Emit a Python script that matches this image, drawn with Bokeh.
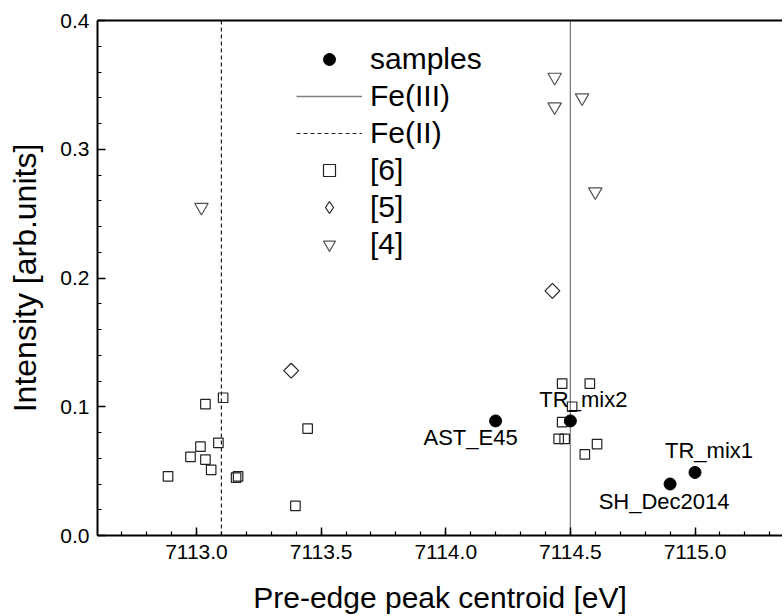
import math
from bokeh.plotting import figure
from bokeh.models import (ColumnDataSource, Legend, LegendItem, LinearAxis,
                          SingleIntervalTicker, FixedTicker, PrintfTickFormatter, LabelSet)
from bokeh.core.properties import value
from bokeh.embed import file_html
from bokeh.resources import INLINE

# ---------------- data ----------------
sample_names = ["AST_E45", "TR_mix2", "SH_Dec2014", "TR_mix1"]
sample_x = [7114.20, 7114.50, 7114.90, 7115.00]
sample_y = [0.089, 0.089, 0.040, 0.049]

ref6_x = [7113.036, 7113.107, 7113.088, 7113.016, 7112.976, 7113.036, 7113.059,
          7112.886, 7113.159, 7113.167, 7113.446, 7113.397,
          7114.467, 7114.578, 7114.507, 7114.467, 7114.453, 7114.477, 7114.558, 7114.607]
ref6_y = [0.102, 0.107, 0.072, 0.069, 0.061, 0.059, 0.051,
          0.046, 0.045, 0.046, 0.083, 0.023,
          0.118, 0.118, 0.100, 0.088, 0.075, 0.075, 0.063, 0.071]

ref5_x = [7113.38, 7114.428]
ref5_y = [0.128, 0.190]

ref4_x = [7113.02, 7114.437, 7114.437, 7114.547, 7114.60]
ref4_y = [0.255, 0.356, 0.333, 0.340, 0.267]

fe3_energy = 7114.5
fe2_energy = 7113.1

x_limits = (7112.603, 7115.351)
y_limits = (0.0, 0.4)

# label placement (screen px), not data
label_dx = [-25, 13, -6, 14]
label_dy = [-17, 21, -17, 22]

FONT = "Liberation Sans"

p = figure(frame_width=685, frame_height=515,
           x_range=x_limits, y_range=y_limits,
           output_backend="svg", toolbar_location=None,
           min_border_left=97, min_border_top=20, min_border_right=0, min_border_bottom=0,
           background_fill_color="white", border_fill_color="white")
p.outline_line_color = None
p.xgrid.visible = False
p.ygrid.visible = False

# reference lines
r_fe3 = p.line(x=[fe3_energy, fe3_energy], y=list(y_limits), line_color="#808080", line_width=1.3)
r_fe2 = p.line(x=[fe2_energy, fe2_energy], y=list(y_limits), line_color="#222222",
               line_width=1.2, line_dash="4 3")

# literature points
r6 = p.scatter(x=ref6_x, y=ref6_y, marker="square", size=9.5, fill_color=None,
               line_color="#222222", line_width=1.2)
r5 = p.scatter(x=ref5_x, y=ref5_y, marker="square", angle=math.pi / 4, size=10.5,
               fill_color=None, line_color="#222222", line_width=1.2)
# legend-only diamond glyph (same data, hidden in the plot)
r5_leg = p.scatter(x=ref5_x, y=ref5_y, marker="diamond", size=14, fill_color=None,
                   line_color="#222222", line_width=1.2, visible=False)
r4 = p.scatter(x=ref4_x, y=ref4_y, marker="inverted_triangle", size=13.5, fill_color=None,
               line_color="#505050", line_width=1.2)

# samples
src = ColumnDataSource(dict(x=sample_x, y=sample_y, name=sample_names, dx=label_dx, dy=label_dy))
r_s = p.scatter(x="x", y="y", source=src, marker="circle", size=12,
                fill_color="black", line_color="black")
labels = LabelSet(x="x", y="y", text="name", source=src, x_offset="dx", y_offset="dy",
                  text_align="center", text_baseline="middle",
                  text_font=value(FONT), text_font_size="22px", text_color="black")
p.add_layout(labels)

# axes
for ax in (p.xaxis[0], p.yaxis[0]):
    ax.axis_line_width = 2
    ax.axis_line_color = "black"
    ax.major_tick_in = 8
    ax.major_tick_out = 0
    ax.minor_tick_in = 4
    ax.minor_tick_out = 0
    ax.major_tick_line_width = 1.5
    ax.minor_tick_line_width = 1.2
    ax.major_tick_line_color = "black"
    ax.minor_tick_line_color = "black"
    ax.major_label_text_font = FONT
    ax.major_label_text_font_size = "21px"
    ax.major_label_text_color = "black"
    ax.axis_label_text_font = FONT
    ax.axis_label_text_font_style = "normal"
    ax.axis_label_text_color = "black"
    ax.formatter = PrintfTickFormatter(format="%.1f")

p.xaxis[0].ticker = SingleIntervalTicker(interval=0.5, num_minor_ticks=5)
p.yaxis[0].ticker = SingleIntervalTicker(interval=0.1, num_minor_ticks=5)
p.xaxis[0].axis_label = "Pre-edge peak centroid [eV]"
p.yaxis[0].axis_label = "Intensity [arb.units]"
p.xaxis[0].axis_label_text_font_size = "30px"
p.yaxis[0].axis_label_text_font_size = "32px"
p.xaxis[0].major_label_standoff = 9
p.xaxis[0].axis_label_standoff = 19
p.yaxis[0].major_label_standoff = 8
p.yaxis[0].axis_label_standoff = 14

top = LinearAxis(ticker=FixedTicker(ticks=[]), axis_line_width=2, axis_line_color="black",
                 major_tick_in=0, major_tick_out=0, minor_tick_in=0, minor_tick_out=0)
p.add_layout(top, "above")

legend = Legend(items=[
    LegendItem(label="samples", renderers=[r_s]),
    LegendItem(label="Fe(III)", renderers=[r_fe3]),
    LegendItem(label="Fe(II)", renderers=[r_fe2]),
    LegendItem(label="[6]", renderers=[r6]),
    LegendItem(label="[5]", renderers=[r5_leg]),
    LegendItem(label="[4]", renderers=[r4]),
], location=(199, 274), padding=0, margin=0, spacing=3,
    glyph_width=66, glyph_height=30, label_height=34, label_standoff=8,
    label_text_font=FONT, label_text_font_size="30px", label_text_color="black",
    inactive_fill_alpha=0,
    border_line_alpha=0, background_fill_alpha=0)
p.add_layout(legend)

open("out.html", "w").write(file_html(p, INLINE))
